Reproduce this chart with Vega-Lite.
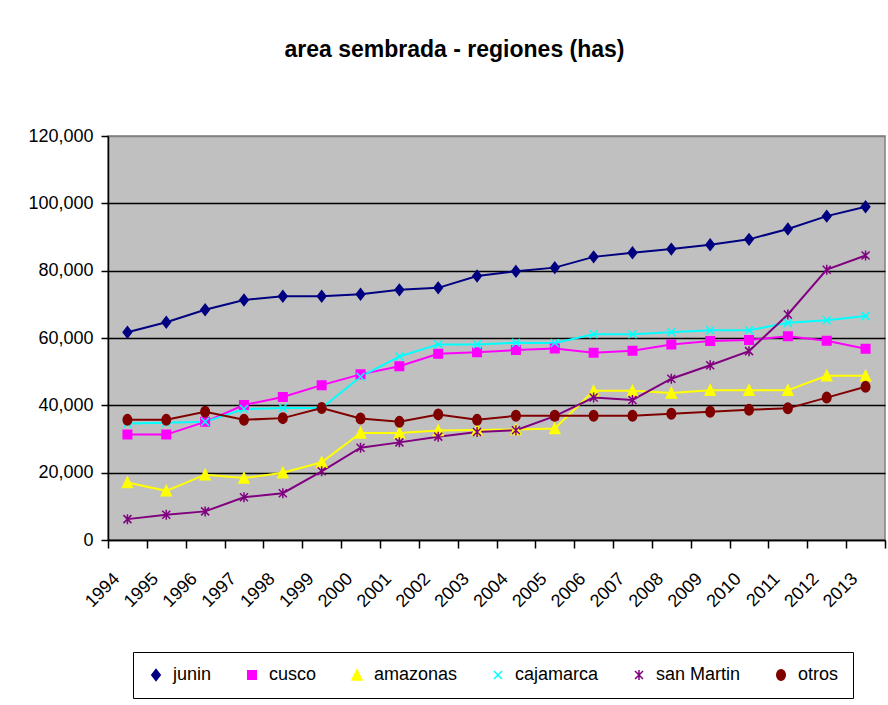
{
  "$schema": "https://vega.github.io/schema/vega-lite/v6.json",
  "width": 777,
  "height": 404,
  "autosize": {"type": "none"},
  "padding": {"left": 108, "top": 136, "right": 3, "bottom": 165},
  "background": "white",
  "title": {"text": "area sembrada - regiones (has)", "font": "Liberation Sans", "fontSize": 23, "fontWeight": "bold", "color": "black", "anchor": "middle", "dx": -42, "offset": 47, "baseline": "alphabetic"},
  "data": {"values": [
    {"year": "1994", "junin": 61700, "cusco": 31300, "amazonas": 17100, "cajamarca": 34600, "san Martin": 6200, "otros": 35700},
    {"year": "1995", "junin": 64700, "cusco": 31300, "amazonas": 14600, "cajamarca": 34800, "san Martin": 7500, "otros": 35700},
    {"year": "1996", "junin": 68400, "cusco": 35100, "amazonas": 19400, "cajamarca": 35100, "san Martin": 8500, "otros": 38100},
    {"year": "1997", "junin": 71300, "cusco": 40100, "amazonas": 18400, "cajamarca": 38900, "san Martin": 12700, "otros": 35700},
    {"year": "1998", "junin": 72400, "cusco": 42500, "amazonas": 20000, "cajamarca": 39200, "san Martin": 13900, "otros": 36200},
    {"year": "1999", "junin": 72400, "cusco": 46000, "amazonas": 23100, "cajamarca": 39200, "san Martin": 20400, "otros": 39200},
    {"year": "2000", "junin": 73000, "cusco": 49200, "amazonas": 31800, "cajamarca": 48500, "san Martin": 27400, "otros": 36100},
    {"year": "2001", "junin": 74300, "cusco": 51600, "amazonas": 31800, "cajamarca": 54500, "san Martin": 29000, "otros": 35100},
    {"year": "2002", "junin": 74900, "cusco": 55300, "amazonas": 32500, "cajamarca": 58100, "san Martin": 30700, "otros": 37300},
    {"year": "2003", "junin": 78400, "cusco": 55800, "amazonas": 32700, "cajamarca": 58100, "san Martin": 32100, "otros": 35700},
    {"year": "2004", "junin": 79800, "cusco": 56400, "amazonas": 32800, "cajamarca": 58600, "san Martin": 32600, "otros": 36900},
    {"year": "2005", "junin": 80900, "cusco": 56900, "amazonas": 33100, "cajamarca": 58500, "san Martin": 36800, "otros": 36900},
    {"year": "2006", "junin": 84100, "cusco": 55600, "amazonas": 44300, "cajamarca": 61100, "san Martin": 42300, "otros": 36900},
    {"year": "2007", "junin": 85300, "cusco": 56200, "amazonas": 44300, "cajamarca": 61100, "san Martin": 41600, "otros": 36900},
    {"year": "2008", "junin": 86400, "cusco": 58100, "amazonas": 43700, "cajamarca": 61700, "san Martin": 47900, "otros": 37500},
    {"year": "2009", "junin": 87700, "cusco": 59100, "amazonas": 44500, "cajamarca": 62300, "san Martin": 51900, "otros": 38100},
    {"year": "2010", "junin": 89300, "cusco": 59400, "amazonas": 44500, "cajamarca": 62300, "san Martin": 56100, "otros": 38700},
    {"year": "2011", "junin": 92400, "cusco": 60500, "amazonas": 44500, "cajamarca": 64500, "san Martin": 67000, "otros": 39100},
    {"year": "2012", "junin": 96200, "cusco": 59200, "amazonas": 48800, "cajamarca": 65300, "san Martin": 80300, "otros": 42300},
    {"year": "2013", "junin": 99000, "cusco": 56800, "amazonas": 48800, "cajamarca": 66500, "san Martin": 84500, "otros": 45500}
  ]},
  "transform": [{"fold": ["junin", "cusco", "amazonas", "cajamarca", "san Martin", "otros"], "as": ["region", "value"]}],
  "encoding": {
    "x": {"field": "year", "type": "ordinal", "scale": {"type": "band", "paddingInner": 0, "paddingOuter": 0},
      "axis": {"title": null, "labelAngle": -45, "labelAlign": "right", "labelBaseline": "middle", "labelPadding": 28, "labelOffset": -11, "tickSize": 8, "tickBand": "extent", "grid": false, "domainColor": "black", "domainWidth": 1.5, "tickColor": "black", "tickWidth": 1.5, "labelFont": "Liberation Sans", "labelFontSize": 18, "labelColor": "black"}},
    "y": {"field": "value", "type": "quantitative", "scale": {"domain": [0, 120000], "nice": false},
      "axis": {"title": null, "values": [0, 20000, 40000, 60000, 80000, 100000, 120000], "format": ",d", "grid": true, "gridColor": {"condition": {"test": "datum.value === 120000", "value": "#808080"}, "value": "black"}, "gridWidth": 1.5, "domainColor": "black", "domainWidth": 1.5, "tickColor": "black", "tickWidth": 1.5, "tickSize": 7, "labelPadding": 8, "labelFont": "Liberation Sans", "labelFontSize": 18, "labelColor": "black"}},
    "color": {"field": "region", "type": "nominal",
      "scale": {"domain": ["junin", "cusco", "amazonas", "cajamarca", "san Martin", "otros"], "range": ["#000080", "#ff00ff", "#ffff00", "#00ffff", "#800080", "#800000"]},
      "legend": {"title": null, "orient": "none", "legendX": 25, "legendY": 516, "direction": "horizontal", "columns": 6, "strokeColor": "black", "fillColor": "white", "padding": 14, "labelFont": "Liberation Sans", "labelFontSize": 18, "labelColor": "black", "symbolSize": 100, "labelOffset": 8, "columnPadding": 31, "symbolStrokeWidth": 1.5}
    }
  },
  "layer": [
    {"mark": {"type": "line", "strokeWidth": 2}},
    {"mark": {"type": "point", "filled": true, "opacity": 1, "size": 100, "strokeWidth": 1.5},
      "encoding": {
        "shape": {"field": "region", "type": "nominal", "legend": null,
          "scale": {"domain": ["junin", "cusco", "amazonas", "cajamarca", "san Martin", "otros"],
            "range": ["M0,-1.1L0.85,0L0,1.1L-0.85,0Z", "M-0.85,-0.85L0.85,-0.85L0.85,0.85L-0.85,0.85Z", "M0,-1.05L1,1L-1,1Z", "M-0.8,-0.8L0.8,0.8M-0.8,0.8L0.8,-0.8", "M-0.8,-0.8L0.8,0.8M-0.8,0.8L0.8,-0.8M0,-1L0,1", "M-0.85,0A0.85,1.05 0 1,0 0.85,0A0.85,1.05 0 1,0 -0.85,0Z"]}},
        "stroke": {"field": "region", "type": "nominal", "legend": null,
          "scale": {"domain": ["junin", "cusco", "amazonas", "cajamarca", "san Martin", "otros"], "range": ["#000080", "#ff00ff", "#ffff00", "#00ffff", "#800080", "#800000"]}}
      }}
  ],
  "config": {
    "font": "Liberation Sans",
    "view": {"fill": "#c0c0c0", "stroke": "#808080", "strokeWidth": 1.5}
  }
}
